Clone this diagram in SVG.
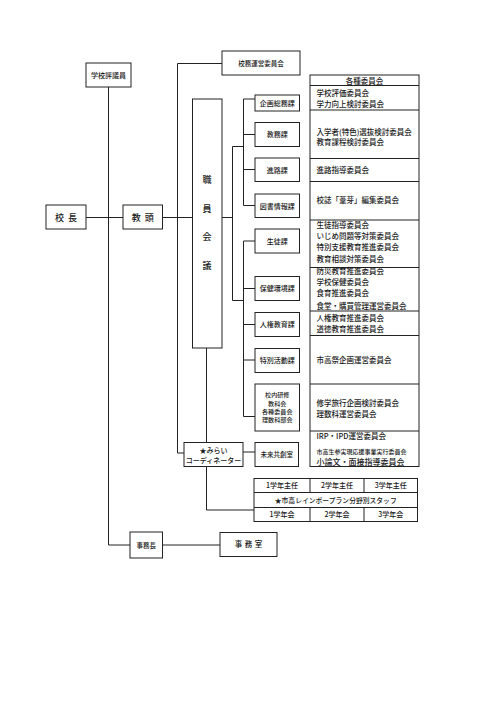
<svg xmlns="http://www.w3.org/2000/svg" width="500" height="706" viewBox="0 0 500 706">
<style>
.b{fill:#fff;stroke:#222;stroke-width:1}
.l{fill:none;stroke:#222;stroke-width:1}
text{font-family:"Noto Sans CJK JP","Noto Sans",sans-serif;fill:#1a1a1a;font-weight:500}
.c{text-anchor:middle}
.s7{font-size:7px}
.s75{font-size:7.5px}
.k{font-size:6.1px}
</style>
<rect width="500" height="706" fill="#fff"/>
<g id="connectors" class="l">
<path d="M108.5 87V545H130"/>
<path d="M86 217.5H123"/>
<path d="M162.5 217.5H192.5"/>
<path d="M177.5 63.5V453H184"/>
<path d="M177.5 63.5H222"/>
<path d="M222 217.5H232.5"/>
<path d="M243.5 146.5H232.5V300.5H243.5"/>
<path d="M255 99H243.5V205.5H255"/>
<path d="M243.5 134.5H255M243.5 169.5H255"/>
<path d="M255 241H243.5V416.5H255"/>
<path d="M243.5 288.5H255M243.5 324.5H255M243.5 360H255"/>
<path d="M206.5 348V442.5"/>
<path d="M206.5 466.5V510H254"/>
<path d="M243 452H255"/>
<path d="M162.5 545H220"/>
</g>
<g id="kocho"><rect class="b" x="46" y="205" width="40" height="24"/><text class="c" x="66" y="220.5" font-size="9" letter-spacing="4" dx="2">校長</text></g>
<g id="gakko-hyogiin"><rect class="b" x="86" y="63" width="45" height="24"/><text class="c s7" x="108.5" y="77.5">学校評議員</text></g>
<g id="kyoto"><rect class="b" x="123" y="205" width="39.5" height="24"/><text class="c" x="142.75" y="220.5" font-size="9" letter-spacing="4" dx="2">教頭</text></g>
<g id="komu-unei"><rect class="b" x="222" y="51" width="78" height="24"/><text class="c" x="261" y="65.5" font-size="6.5">校務運営委員会</text></g>
<g id="shokuin-kaigi"><rect class="b" x="192.5" y="99" width="29.5" height="249"/>
<text class="c" x="207" y="183" font-size="9">職</text><text class="c" x="207" y="212" font-size="9">員</text><text class="c" x="207" y="240" font-size="9">会</text><text class="c" x="207" y="269" font-size="9">議</text></g>
<g id="kikaku"><rect class="b" x="255" y="95" width="44.5" height="16"/><text class="c s7" x="277.25" y="105.5">企画総務課</text></g>
<g id="kyomu"><rect class="b" x="255" y="122.5" width="44.5" height="24"/><text class="c s7" x="277.25" y="137">教務課</text></g>
<g id="shinro"><rect class="b" x="255" y="158" width="44.5" height="23.5"/><text class="c s7" x="277.25" y="172.5">進路課</text></g>
<g id="tosho"><rect class="b" x="255" y="194" width="44.5" height="23.5"/><text class="c s7" x="277.25" y="208.5">図書情報課</text></g>
<g id="seito"><rect class="b" x="255" y="229" width="44.5" height="24"/><text class="c s7" x="277.25" y="243.5">生徒課</text></g>
<g id="hoken"><rect class="b" x="255" y="276.5" width="44.5" height="24"/><text class="c s7" x="277.25" y="291">保健環境課</text></g>
<g id="jinken"><rect class="b" x="255" y="312.5" width="44.5" height="24"/><text class="c s7" x="277.25" y="327">人権教育課</text></g>
<g id="tokkatsu"><rect class="b" x="255" y="348.5" width="44.5" height="24"/><text class="c s7" x="277.25" y="363">特別活動課</text></g>
<g id="konai"><rect class="b" x="255" y="384" width="44.5" height="47"/>
<text class="c k" x="277.25" y="397.2">校内研修</text><text class="c k" x="277.25" y="405.6">教科会</text><text class="c k" x="277.25" y="414">各種委員会</text><text class="c k" x="277.25" y="422.4">理数科部会</text></g>
<g id="committees">
<rect class="b" x="310" y="75" width="109" height="391.5"/>
<path class="l" d="M310 85.5H419M310 110H419M310 158.5H419M310 181.5H419M310 220H419M310 267.5H419M310 311H419M310 335.5H419M310 384H419M310 431H419"/>
<text class="c s75" x="364.5" y="83.5">各種委員会</text>
<g class="s75">
<text x="316.5" y="96">学校評価委員会</text>
<text x="316.5" y="107">学力向上検討委員会</text>
<text x="316.5" y="134.5">入学者(特色)選抜検討委員会</text>
<text x="316.5" y="144.5">教育課程検討委員会</text>
<text x="316.5" y="173">進路指導委員会</text>
<text x="316.5" y="203">校誌「葦芽」編集委員会</text>
<text x="316.5" y="228">生徒指導委員会</text>
<text x="316.5" y="238.5">いじめ問題等対策委員会</text>
<text x="316.5" y="250">特別支援教育推進委員会</text>
<text x="316.5" y="262">教育相談対策委員会</text>
<text x="316.5" y="274">防災教育推進委員会</text>
<text x="316.5" y="284.5">学校保健委員会</text>
<text x="316.5" y="296">食育推進委員会</text>
<text x="316.5" y="309">食堂・購買管理運営委員会</text>
<text x="316.5" y="321">人権教育推進委員会</text>
<text x="316.5" y="332">道徳教育推進委員会</text>
<text x="316.5" y="363">市高祭企画運営委員会</text>
<text x="316.5" y="405.5">修学旅行企画検討委員会</text>
<text x="316.5" y="417">理数科運営委員会</text>
<text x="316.5" y="439">IRP・IPD運営委員会</text>
</g>
<text x="316.5" y="454" font-size="6">市高生参実現応援事業実行委員会</text>
<text x="316.5" y="464.5" font-size="8">小論文・面接指導委員会</text>
</g>
<g id="mirai-coordinator"><rect class="b" x="184" y="442.5" width="59" height="24"/><text class="c s7" x="213.5" y="452.5">★みらい</text><text class="c s7" x="213.5" y="462.5">コーディネーター</text></g>
<g id="mirai-kyoso"><rect class="b" x="255" y="442.5" width="43.5" height="24"/><text class="c" x="276.75" y="456.5" font-size="6.5">未来共創室</text></g>
<g id="grades">
<rect class="b" x="254" y="478.5" width="163.5" height="43"/>
<path class="l" d="M254 492.5H417.5M254 507.5H417.5M310 478.5V492.5M364 478.5V492.5M310 507.5V521.5M364 507.5V521.5"/>
<g class="s7">
<text class="c" x="282" y="488">1学年主任</text><text class="c" x="337" y="488">2学年主任</text><text class="c" x="390.75" y="488">3学年主任</text>
<text class="c" x="335.75" y="502.5" font-size="6.8">★市高レインボープラン分野別スタッフ</text>
<text class="c" x="282" y="517">1学年会</text><text class="c" x="337" y="517">2学年会</text><text class="c" x="390.75" y="517">3学年会</text>
</g>
</g>
<g id="jimucho"><rect class="b" x="130" y="532" width="32.5" height="26"/><text class="c" x="146.25" y="547.5" font-size="6.5">事務長</text></g>
<g id="jimushitsu"><rect class="b" x="220" y="532.5" width="57" height="24"/><text class="c" x="248.5" y="547" font-size="7.5" letter-spacing="2.5" dx="1.25">事務室</text></g>
</svg>
